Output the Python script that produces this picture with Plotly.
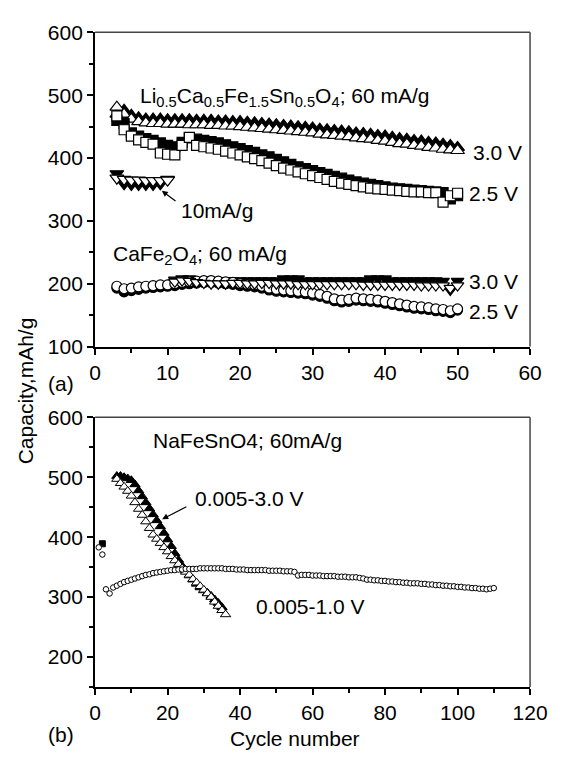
import plotly.graph_objects as go

# ---------------- data: panel (a) ----------------
cyc_a = list(range(3, 51))
li30_open = [481, 470, 462, 458, 456, 455, 455, 454, 454, 454, 453, 453, 453, 452, 452, 451,
             451, 450, 449, 448, 447, 446, 445, 444, 443, 442, 441, 440, 438, 437, 436, 435,
             434, 432, 431, 430, 428, 427, 425, 423, 422, 420, 419, 417, 416, 414, 413, 412]
li30_fill = [470, 476, 468, 464, 462, 462, 462, 461, 461, 461, 461, 460, 460, 460, 459, 459,
             458, 458, 457, 456, 455, 454, 453, 452, 451, 450, 449, 448, 446, 445, 444, 443,
             442, 440, 439, 438, 436, 435, 433, 431, 430, 428, 427, 425, 424, 422, 420, 417]
li25_open = [467, 445, 435, 429, 425, 422, 408, 406, 405, 420, 433, 420, 418, 416, 414, 411,
             408, 405, 402, 399, 396, 392, 388, 384, 381, 378, 375, 372, 369, 366, 363, 360,
             358, 356, 354, 352, 351, 350, 349, 348, 347, 346, 346, 345, 345, 330, 340, 344]
li25_fill = [460, 455, 440, 435, 431, 428, 424, 420, 418, 425, 432, 430, 428, 426, 424, 421,
             418, 415, 412, 409, 405, 402, 398, 394, 390, 386, 383, 380, 377, 374, 371, 368,
             365, 362, 360, 358, 356, 354, 352, 351, 350, 349, 348, 347, 346, 345, 335, 340]
cyc_10 = list(range(3, 11))
li10_open = [368, 366, 365, 365, 364, 364, 364, 365]
li10_fill = [375, 359, 358, 358, 358, 358, 359, 366]
cyc_ca30 = list(range(11, 51))
ca30_open = [203, 205, 204, 202, 201, 200, 200, 200, 201, 201, 200, 200, 201, 201, 200, 200,
             200, 199, 199, 199, 199, 199, 199, 199, 199, 199, 198, 198, 198, 198, 198, 198,
             198, 198, 197, 197, 197, 197, 193, 197]
ca30_fill = [206, 208, 208, 205, 205, 205, 205, 205, 205, 205, 205, 205, 205, 205, 205, 208,
             208, 208, 205, 205, 205, 205, 205, 205, 205, 205, 205, 208, 208, 208, 205, 205,
             205, 205, 205, 205, 205, 204, 190, 204]
ca25_open = [196, 192, 193, 195, 196, 197, 198, 198, 200, 202, 203, 204, 205, 205, 204, 203,
             202, 200, 199, 198, 196, 193, 191, 190, 189, 188, 187, 185, 183, 180, 176, 174,
             175, 177, 176, 175, 174, 172, 170, 168, 166, 164, 163, 162, 160, 159, 157, 160]
ca25_fill = [193, 187, 189, 191, 193, 194, 195, 196, 197, 199, 200, 201, 202, 202, 201, 200,
             199, 197, 196, 195, 193, 190, 188, 187, 186, 185, 184, 182, 180, 177, 173, 171,
             172, 174, 173, 172, 171, 169, 167, 165, 163, 161, 160, 159, 157, 156, 154, 158]

# ---------------- data: panel (b) ----------------
cyc_b30o = list(range(6, 37))
na30_open = [497, 490, 484, 477, 469, 458, 447, 437, 426, 415, 404, 397, 390, 383, 376, 368,
             361, 355, 348, 342, 337, 330, 324, 318, 312, 306, 300, 292, 285, 278, 271]
cyc_b30f = list(range(6, 36))
na30_fill = [502, 502, 500, 498, 495, 488, 478, 468, 458, 448, 438, 428, 418, 407, 396, 385,
             373, 362, 352, 344, 336, 329, 322, 316, 311, 307, 302, 296, 290, 283]
cyc_b10 = list(range(1, 111))
na10_open = [383, 371, 313, 306, 316, 319, 322, 325, 327, 329,   # 1-10
             331, 333, 335, 337, 338, 340, 341, 342, 343, 344,   # 11-20
             345, 345, 346, 346, 347, 347, 347, 347, 348, 348,   # 21-30
             348, 348, 348, 348, 348, 347, 347, 347, 346, 346,   # 31-40
             346, 345, 345, 345, 345, 345, 345, 344, 344, 344,   # 41-50
             344, 343, 343, 343, 342, 336, 337, 337, 337, 336,   # 51-60
             336, 336, 335, 335, 335, 335, 334, 334, 334, 333,   # 61-70
             333, 333, 332, 331, 329, 329, 328, 328, 327, 327,   # 71-80
             326, 326, 325, 325, 324, 324, 323, 323, 323, 322,   # 81-90
             322, 321, 321, 320, 320, 319, 319, 318, 318, 317,   # 91-100
             317, 316, 316, 315, 315, 314, 314, 313, 314, 315]   # 101-110
cyc_bsq = [2]
na_sq = [389]

xticks_a = [0, 10, 20, 30, 40, 50, 60]
yticks_a = [100, 200, 300, 400, 500, 600]
xticks_b = [0, 20, 40, 60, 80, 100, 120]
yticks_b = [200, 300, 400, 500, 600]

FONT = "Liberation Sans, Arial, sans-serif"
FS = 21
W, H = 572, 760

fig = go.Figure()


def add(x, y, symbol, filled, size, xa="x", ya="y", lw=1.2):
    fig.add_trace(go.Scatter(
        x=x, y=y, mode="markers", xaxis=xa, yaxis=ya, showlegend=False,
        marker=dict(symbol=symbol, size=size,
                    color="black" if filled else "white",
                    line=dict(color="black", width=lw))))


# panel (a)
add(cyc_a, li30_fill, "triangle-up", True, 12)
add(cyc_a, li30_open, "triangle-up", False, 12)
add(cyc_a, li25_fill, "square", True, 10)
add(cyc_a, li25_open, "square", False, 10)
add(cyc_10, li10_fill, "triangle-down", True, 12)
add(cyc_10, li10_open, "triangle-down", False, 12)
add(cyc_ca30, ca30_fill, "triangle-down", True, 11)
add(cyc_a, ca25_fill, "circle", True, 10)
add(cyc_a, ca25_open, "circle", False, 10)
add(cyc_ca30, ca30_open, "triangle-down", False, 11)

# panel (b)
add(cyc_b30f, na30_fill, "triangle-up", True, 9, "x2", "y2", 1)
add(cyc_b30o, na30_open, "triangle-up", False, 9, "x2", "y2", 1)
add(cyc_bsq, na_sq, "square", True, 6, "x2", "y2", 1)
add(cyc_b10, na10_open, "circle", False, 5.5, "x2", "y2", 1)

xd = [93 / W, 547 / W]
yd_a = [1 - 345 / H, 1 - 21 / H]
yd_b = [1 - 696 / H, 1 - 418 / H]

axis_common = dict(showline=True, linecolor="black", linewidth=2, ticks="outside",
                   ticklen=6, tickwidth=1.5, tickcolor="black", showgrid=False,
                   zeroline=False, tickfont=dict(family=FONT, size=FS, color="black"),
                   minor=dict(ticks="outside", ticklen=4, tickwidth=1.5, tickcolor="black",
                              showgrid=False))

fig.update_layout(
    width=W, height=H, margin=dict(l=0, r=0, t=0, b=0),
    paper_bgcolor="white", plot_bgcolor="white",
    font=dict(family=FONT, size=FS, color="black"),
    xaxis=dict(domain=xd, anchor="y", range=[0, 60], tickvals=xticks_a,
               minor_dtick=5, **axis_common),
    yaxis=dict(domain=yd_a, anchor="x", range=[100, 600], tickvals=yticks_a,
               minor_dtick=50, **axis_common),
    xaxis2=dict(domain=xd, anchor="y2", range=[0, 120], tickvals=xticks_b,
                minor_dtick=10, **axis_common),
    yaxis2=dict(domain=yd_b, anchor="x2", range=[150, 600], tickvals=yticks_b,
                minor_dtick=50, **axis_common),
)

for xr, yr in [("x domain", "y domain"), ("x2 domain", "y2 domain")]:
    fig.add_shape(type="line", xref=xr, yref=yr, x0=0, x1=1, y0=1, y1=1,
                  line=dict(color="#444", width=1.5))
    fig.add_shape(type="line", xref=xr, yref=yr, x0=1, x1=1, y0=0, y1=1,
                  line=dict(color="#444", width=1.5))


def txt(x, y, s, xref="x", yref="y", xanchor="left", size=FS, angle=0):
    fig.add_annotation(x=x, y=y, xref=xref, yref=yref, text=s, showarrow=False,
                       xanchor=xanchor, yanchor="middle", textangle=angle, borderpad=0,
                       font=dict(family=FONT, size=size, color="black"))


txt(6.0, 497, "Li<sub>0.5</sub>Ca<sub>0.5</sub>Fe<sub>1.5</sub>Sn<sub>0.5</sub>O<sub>4</sub>; 60 mA/g")
txt(52.0, 409, "3.0 V")
txt(51.5, 344, "2.5 V")
txt(11.7, 316, "10mA/g")
txt(2.3, 246, "CaFe<sub>2</sub>O<sub>4</sub>; 60 mA/g")
txt(51.5, 203, "3.0 V")
txt(51.5, 156, "2.5 V")
fig.add_annotation(x=9.2, y=348, ax=11.3, ay=330, xref="x", yref="y", axref="x", ayref="y",
                   text="", showarrow=True, arrowhead=2, arrowsize=1, arrowwidth=1.2,
                   arrowcolor="black")

txt(15.8, 561, "NaFeSnO4; 60mA/g", "x2", "y2")
txt(27.3, 464, "0.005-3.0 V", "x2", "y2")
txt(44.0, 284, "0.005-1.0 V", "x2", "y2")
fig.add_annotation(x=18.5, y=430, ax=25.6, ay=452, xref="x2", yref="y2", axref="x2",
                   ayref="y2", text="", showarrow=True, arrowhead=2, arrowsize=1,
                   arrowwidth=1.2, arrowcolor="black")

txt(57 / W, 1 - 383 / H, "(a)", "paper", "paper", "center")
txt(57 / W, 1 - 745 / H, "(b)", "paper", "paper", "center")
txt(302 / W, 1 - 749 / H, "Cycle number", "paper", "paper", "center")
txt(20 / W, 1 - 391 / H, "Capacity,mAh/g", "paper", "paper", "center", angle=-90)

fig.write_html("out.html")
